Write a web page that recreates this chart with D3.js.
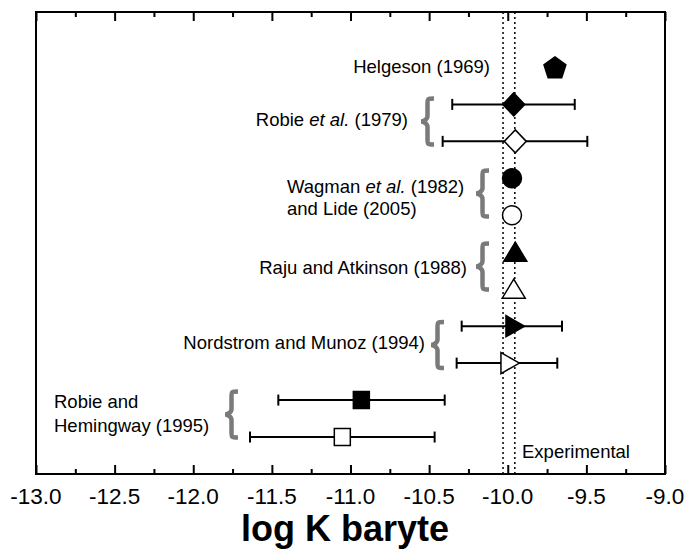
<!DOCTYPE html>
<html>
<head>
<meta charset="utf-8">
<script src="https://cdn.jsdelivr.net/npm/d3@7"></script>
<style>
  html, body { margin: 0; padding: 0; background: #fff; }
  svg { display: block; font-family: "Liberation Sans", Arial, sans-serif; }
</style>
</head>
<body>
<svg id="chart" width="685" height="551"></svg>
<script>
// ---- data ----
const rowPos   = [11, 10, 9, 8, 7, 6, 5, 4, 3, 2, 1];
const logK     = [-9.70, -9.962, -9.952, -9.973, -9.973, -9.952, -9.962, -9.954, -9.986, -10.931, -11.052];
const errLow   = [null, -10.353, -10.414, null, null, null, null, -10.293, -10.325, -11.459, -11.639];
const errHigh  = [null, -9.574, -9.494, null, null, null, null, -9.655, -9.685, -10.401, -10.465];
const markers  = ["pentagon", "diamond", "diamond", "circle", "circle", "triangleUp", "triangleUp", "triangleRight", "triangleRight", "square", "square"];
const filled   = [true, true, false, true, false, true, false, true, false, true, false];
const experimental = [-10.03, -9.955];
const xTicksMajor = [-13.0, -12.5, -12.0, -11.5, -11.0, -10.5, -10.0, -9.5, -9.0];
const xTicksMinor = [-12.75, -12.25, -11.75, -11.25, -10.75, -10.25, -9.75, -9.25];
const xDomain = [-13, -9];
const yDomain = [0, 12.5];
const xTitle = "log K baryte";

// ---- layout ----
const svg = d3.select("#chart");
const L = 36, R = 665, T = 12, B = 474;
const x = d3.scaleLinear().domain(xDomain).range([L, R]);
const y = d3.scaleLinear().domain(yDomain).range([B, T]);

// dotted experimental lines
svg.selectAll("line.exp").data(experimental).enter().append("line")
  .attr("x1", d => x(d)).attr("x2", d => x(d))
  .attr("y1", T).attr("y2", B)
  .attr("stroke", "#000").attr("stroke-width", 1.5)
  .attr("stroke-dasharray", "2,3");

// axes (ticks inward, top and bottom)
const fmt = v => d3.format(".1f")(v).replace("\u2212", "-");
const bottomMajor = d3.axisTop(x).tickValues(xTicksMajor).tickSize(9).tickFormat("");
const bottomMinor = d3.axisTop(x).tickValues(xTicksMinor).tickSize(5).tickFormat("");
const topMajor = d3.axisBottom(x).tickValues(xTicksMajor).tickSize(9).tickFormat("");
const topMinor = d3.axisBottom(x).tickValues(xTicksMinor).tickSize(5).tickFormat("");
[[bottomMajor, B], [bottomMinor, B], [topMajor, T], [topMinor, T]].forEach(([ax, yy]) => {
  const g = svg.append("g").attr("transform", `translate(0,${yy})`).call(ax);
  g.select(".domain").remove();
  g.selectAll(".tick line").attr("stroke", "#000").attr("stroke-width", 2);
});
// tick labels
svg.append("g").selectAll("text").data(xTicksMajor).enter().append("text")
  .attr("x", d => x(d)).attr("y", 504)
  .attr("text-anchor", "middle")
  .attr("font-size", 22.5).attr("fill", "#000")
  .text(d => fmt(d));

// frame
svg.append("rect").attr("x", L).attr("y", T).attr("width", R - L).attr("height", B - T)
  .attr("fill", "none").attr("stroke", "#000").attr("stroke-width", 2);

// axis title
svg.append("text").attr("x", 345).attr("y", 541)
  .attr("text-anchor", "middle").attr("font-size", 36).attr("font-weight", "bold")
  .text(xTitle);

// error bars
const idx = d3.range(logK.length).filter(i => errLow[i] !== null);
const eb = svg.append("g").attr("stroke", "#000").attr("stroke-width", 2);
idx.forEach(i => {
  const yy = y(rowPos[i]);
  eb.append("line").attr("x1", x(errLow[i])).attr("x2", x(errHigh[i])).attr("y1", yy).attr("y2", yy);
  [errLow[i], errHigh[i]].forEach(v => {
    eb.append("line").attr("x1", x(v)).attr("x2", x(v)).attr("y1", yy - 5.5).attr("y2", yy + 5.5);
  });
});

// marker shapes
function shapePath(type) {
  switch (type) {
    case "pentagon": {
      const r = 11.5; const pts = [];
      for (let k = 0; k < 5; k++) {
        const a = -Math.PI / 2 + k * 2 * Math.PI / 5;
        pts.push([r * Math.cos(a), r * Math.sin(a) + 1]);
      }
      return "M" + pts.map(p => p.join(",")).join("L") + "Z";
    }
    case "diamond": return "M0,-11.5L11,0L0,11.5L-11,0Z";
    case "circle": return d3.symbol(d3.symbolCircle, Math.PI * 9.5 * 9.5)();
    case "triangleUp": return "M0,-10L11.5,9L-11.5,9Z";
    case "triangleRight": return "M9.5,0L-9,-10.5L-9,10.5Z";
    case "square": return "M-8,-8.5L8,-8.5L8,8.5L-8,8.5Z";
  }
}
svg.append("g").selectAll("path").data(d3.range(logK.length)).enter().append("path")
  .attr("d", i => shapePath(markers[i]))
  .attr("transform", i => `translate(${x(logK[i])},${y(rowPos[i])})`)
  .attr("fill", i => filled[i] ? "#000" : "#fff")
  .attr("stroke", "#000").attr("stroke-width", 1.5);

// braces
function brace(x0, yc, w, h) {
  const t = yc - h / 2, b = yc + h / 2, xm = x0 + w / 2, xr = x0 + w;
  return `M${xr},${t} C${xm},${t} ${xm},${t} ${xm},${t + h * 0.12}` +
         ` L${xm},${yc - h * 0.12} C${xm},${yc - 2} ${x0 + 2},${yc} ${x0},${yc}` +
         ` C${x0 + 2},${yc} ${xm},${yc + 2} ${xm},${yc + h * 0.12}` +
         ` L${xm},${b - h * 0.12} C${xm},${b} ${xm},${b} ${xr},${b}`;
}
const braces = [[421, 121.5], [476, 193.5], [476, 266.5], [431, 345], [225, 414.5]];
svg.append("g").selectAll("path").data(braces).enter().append("path")
  .attr("d", d => brace(d[0], d[1], 13, 46))
  .attr("fill", "none").attr("stroke", "#7a7a7a").attr("stroke-width", 4.5)
  .attr("stroke-linecap", "butt");

// labels
const lab = svg.append("g").attr("font-size", 18.5).attr("fill", "#000");
lab.append("text").attr("x", 490).attr("y", 73).attr("text-anchor", "end").text("Helgeson (1969)");
const t2 = lab.append("text").attr("x", 408).attr("y", 126).attr("text-anchor", "end");
t2.append("tspan").text("Robie ");
t2.append("tspan").attr("font-style", "italic").text("et al.");
t2.append("tspan").text(" (1979)");
const t3 = lab.append("text").attr("x", 287).attr("y", 193);
t3.append("tspan").text("Wagman ");
t3.append("tspan").attr("font-style", "italic").text("et al.");
t3.append("tspan").text(" (1982)");
lab.append("text").attr("x", 287).attr("y", 215).text("and Lide (2005)");
lab.append("text").attr("x", 467).attr("y", 273.5).attr("text-anchor", "end").text("Raju and Atkinson (1988)");
lab.append("text").attr("x", 425).attr("y", 348.5).attr("text-anchor", "end").text("Nordstrom and Munoz (1994)");
lab.append("text").attr("x", 54).attr("y", 408).text("Robie and");
lab.append("text").attr("x", 54).attr("y", 431.5).text("Hemingway (1995)");
lab.append("text").attr("x", 522).attr("y", 458).text("Experimental");
</script>
</body>
</html>
